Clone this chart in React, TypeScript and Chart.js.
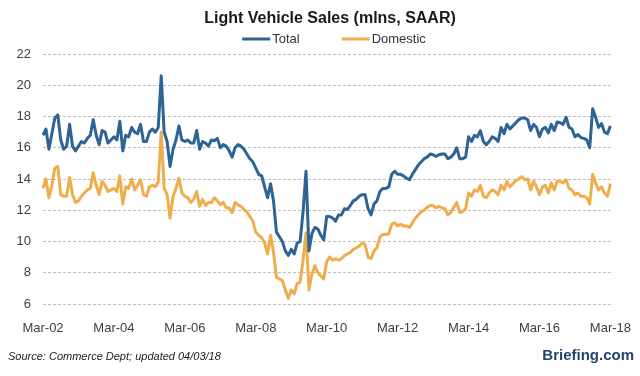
import { useEffect, useRef } from "react";
import { Chart, registerables } from "chart.js";

Chart.register(...registerables);

const TITLE = "Light Vehicle Sales (mlns, SAAR)";
const SOURCE = "Source: Commerce Dept; updated 04/03/18";
const BRAND = "Briefing.com";

const MONTH_NAMES = ["Jan", "Feb", "Mar", "Apr", "May", "Jun", "Jul", "Aug", "Sep", "Oct", "Nov", "Dec"];
const START_YEAR = 2002;
const START_MONTH = 2; // March
const MONTH_COUNT = 193; // Mar-02 .. Mar-18

const categories: string[] = Array.from({ length: MONTH_COUNT }, (_, i) => {
  const t = START_MONTH + i;
  const y = START_YEAR + Math.floor(t / 12);
  return `${MONTH_NAMES[t % 12]}-${String(y % 100).padStart(2, "0")}`;
});

const tickLabels = ["Mar-02", "Mar-04", "Mar-06", "Mar-08", "Mar-10", "Mar-12", "Mar-14", "Mar-16", "Mar-18"];
const yTicks = { min: 6, max: 22, step: 2 };

// Total light vehicle sales, millions SAAR
const total2002to2005 = [
  16.8, 17.2, 15.9, 16.9, 17.9, 18.1, 16.5, 15.9, 16.1, 17.5,
  16.1, 15.8, 16.1, 16.4, 16.3, 16.6, 16.8, 17.8, 16.8, 16.2, 17.1, 17.0,
  16.3, 16.5, 16.7, 16.5, 17.7, 15.8, 16.8, 16.7, 17.3, 17.0, 16.9, 17.5,
  16.4, 16.4, 17.0, 17.2, 17.0, 17.3, 20.6, 17.0, 16.4, 14.8, 15.9, 16.5,
];
const total2006to2009 = [
  17.4, 16.5, 16.4, 16.5, 16.3, 16.3, 17.1, 15.9, 16.4, 16.3, 16.1, 16.5,
  16.45, 16.6, 16.0, 16.2, 16.1, 15.8, 15.4, 16.0, 16.2, 16.1, 15.9, 15.6,
  15.3, 15.1, 14.7, 14.3, 14.2, 13.5, 12.8, 13.7, 12.6, 10.6, 10.3, 10.0,
  9.4, 9.1, 9.5, 9.2, 9.9, 10.0, 11.9, 14.5, 9.4, 10.5, 10.9, 10.8,
];
const total2010to2013 = [
  10.4, 10.1, 11.6, 11.6, 11.5, 11.3, 11.7, 11.7, 12.1, 12.05, 12.3, 12.6,
  12.7, 12.9, 13.0, 13.0, 12.1, 11.7, 12.4, 12.6, 13.2, 13.4, 13.4, 13.5,
  14.3, 14.5, 14.3, 14.3, 14.2, 14.05, 13.95, 14.3, 14.6, 14.9, 15.1, 15.3,
  15.4, 15.6, 15.55, 15.45, 15.55, 15.6, 15.6, 15.3, 15.4, 15.6, 16.0, 15.3,
];
const total2014to2018 = [
  15.3, 15.4, 16.7, 16.4, 16.8, 16.7, 17.1, 16.4, 16.2, 16.4, 16.7, 16.6,
  16.4, 17.3, 16.9, 17.5, 17.2, 17.4, 17.6, 17.8, 17.9, 17.9, 17.8, 17.1,
  17.5, 17.3, 16.7, 17.2, 17.3, 16.95, 17.5, 17.1, 17.65, 17.6, 17.5, 17.95,
  17.3, 17.2, 16.7, 16.85, 16.65, 16.6, 16.5, 16.0, 18.5, 17.95, 17.3, 17.55,
  17.0, 16.9, 17.4,
];

// Domestic light vehicle sales, millions SAAR
const domestic2002to2005 = [
  13.4, 14.0, 12.8, 13.6, 14.7, 14.8, 13.0, 12.9, 12.9, 14.1,
  13.0, 12.5, 12.6, 12.9, 13.1, 13.3, 13.4, 14.4, 13.6, 13.0, 13.85, 13.6,
  13.2, 13.3, 13.4, 13.2, 14.2, 12.4, 13.5, 13.4, 14.0, 13.3, 13.6, 13.95,
  13.0, 12.9, 13.5, 13.6, 13.5, 13.8, 17.0, 13.4, 13.0, 11.5, 12.9, 13.4,
];
const domestic2006to2009 = [
  14.05, 13.1, 12.9, 12.8, 12.5, 12.7, 13.2, 12.25, 12.7, 12.3, 12.5, 12.5,
  12.8, 12.6, 12.35, 12.5, 12.15, 12.15, 11.85, 12.5, 12.35, 12.25, 12.05, 11.9,
  11.6, 11.3, 10.6, 10.4, 10.25, 9.9, 9.2, 10.4, 9.3, 7.7, 7.6, 7.5,
  6.9, 6.35, 6.9, 6.65, 7.3, 7.4, 8.8, 10.55, 6.9, 7.9, 8.45, 8.0,
];
const domestic2010to2013 = [
  7.8, 7.6, 8.7, 9.0, 8.8, 8.9, 8.8, 8.9, 9.1, 9.2, 9.3, 9.5,
  9.6, 9.7, 9.9, 9.8, 9.0, 8.9, 9.4, 9.6, 10.3, 10.45, 10.45, 10.5,
  11.1, 11.2, 11.0, 11.1, 11.0, 11.0, 10.9, 11.2, 11.5, 11.7, 11.9, 12.0,
  12.2, 12.3, 12.3, 12.15, 12.25, 12.15, 12.1, 11.7, 11.85, 12.2, 12.5, 11.85,
];
const domestic2014to2018 = [
  11.9, 12.1, 13.1, 12.9, 13.3, 13.2, 13.6, 12.9, 12.8, 13.1, 13.3, 13.2,
  13.0, 13.6, 13.3, 13.85, 13.5, 13.7, 13.9, 14.0, 14.15, 13.95, 14.0, 13.3,
  13.85, 13.5, 13.0, 13.5, 13.6, 13.1, 13.75, 13.3, 13.85, 13.85, 13.75, 13.95,
  13.4, 13.3, 13.0, 13.1, 12.9, 12.9, 12.8, 12.4, 14.3, 13.75, 13.3, 13.5,
  13.1, 12.9, 13.7,
];

const totalSales = [...total2002to2005, ...total2006to2009, ...total2010to2013, ...total2014to2018];
const domesticSales = [...domestic2002to2005, ...domestic2006to2009, ...domestic2010to2013, ...domestic2014to2018];

const BLUE = "#2d6395";
const ORANGE = "#eeae4e";
const FONT = "'Liberation Sans', Arial, sans-serif";

const decorations = {
  id: "decorations",
  afterDraw(chart: any) {
    const ctx: CanvasRenderingContext2D = chart.ctx;
    ctx.save();
    // Title
    ctx.font = `bold 16px ${FONT}`;
    ctx.fillStyle = "#1a1a1a";
    ctx.textAlign = "center";
    ctx.textBaseline = "middle";
    ctx.fillText(TITLE, 330, 19);

    // Legend
    ctx.font = `13px ${FONT}`;
    const lineW = 28;
    const gapText = 2;
    const gapItems = 42;
    const ds = chart.data.datasets;
    const widths = ds.map((d: any) => lineW + gapText + ctx.measureText(d.label).width);
    const totalW = widths.reduce((a: number, b: number) => a + b, 0) + gapItems * (ds.length - 1);
    let x = 334 - totalW / 2;
    const ly = 39;
    ds.forEach((d: any, i: number) => {
      ctx.strokeStyle = d.borderColor;
      ctx.lineWidth = 3;
      ctx.beginPath();
      ctx.moveTo(x, ly);
      ctx.lineTo(x + lineW, ly);
      ctx.stroke();
      ctx.fillStyle = "#333333";
      ctx.textAlign = "left";
      ctx.fillText(d.label, x + lineW + gapText, ly + 0.5);
      x += widths[i] + gapItems;
    });

    // Footer
    ctx.font = `italic 11px ${FONT}`;
    ctx.fillStyle = "#1a1a1a";
    ctx.textAlign = "left";
    ctx.fillText(SOURCE, 8, 357);
    ctx.font = `bold 15px ${FONT}`;
    ctx.fillStyle = "#23446f";
    ctx.textAlign = "right";
    ctx.fillText(BRAND, 634, 356);
    ctx.restore();
  },
};

export default function App() {
  const canvasRef = useRef<HTMLCanvasElement | null>(null);

  useEffect(() => {
    document.body.style.margin = "0";
    const canvas = canvasRef.current;
    if (!canvas) return;
    const chart = new Chart(canvas, {
      type: "line",
      data: {
        labels: categories,
        datasets: [
          {
            label: "Total",
            data: totalSales,
            borderColor: BLUE,
            backgroundColor: BLUE,
            borderWidth: 3,
            pointRadius: 0,
            tension: 0,
            borderJoinStyle: "round",
          },
          {
            label: "Domestic",
            data: domesticSales,
            borderColor: ORANGE,
            backgroundColor: ORANGE,
            borderWidth: 3,
            pointRadius: 0,
            tension: 0,
            borderJoinStyle: "round",
          },
        ],
      },
      options: {
        responsive: false,
        animation: false,
        events: [],
        layout: { padding: { top: 54, right: 28, left: 0, bottom: 0 } },
        plugins: {
          legend: { display: false },
          title: { display: false },
          tooltip: { enabled: false },
        },
        scales: {
          x: {
            type: "category",
            offset: false,
            grid: { display: false },
            border: { display: false },
            ticks: {
              autoSkip: false,
              maxRotation: 0,
              minRotation: 0,
              padding: 9,
              color: "#404040",
              font: { family: FONT, size: 13 },
              callback: (_v: any, i: number) => (tickLabels.includes(categories[i]) ? categories[i] : null),
            },
            afterFit: (scale: any) => {
              scale.height = 72;
            },
          },
          y: {
            min: yTicks.min,
            max: yTicks.max,
            grid: { color: "#bdbdbd", lineWidth: 1, drawTicks: false },
            border: { display: false, dash: [3, 2] },
            ticks: {
              stepSize: yTicks.step,
              padding: 12,
              color: "#404040",
              font: { family: FONT, size: 13 },
            },
            afterFit: (scale: any) => {
              scale.width = 43;
            },
          },
        },
      },
      plugins: [decorations],
    });
    return () => chart.destroy();
  }, []);

  return (
    <div style={{ position: "absolute", left: 0, top: 0, width: 640, height: 376, background: "#fff" }}>
      <canvas ref={canvasRef} width={640} height={376} />
    </div>
  );
}
